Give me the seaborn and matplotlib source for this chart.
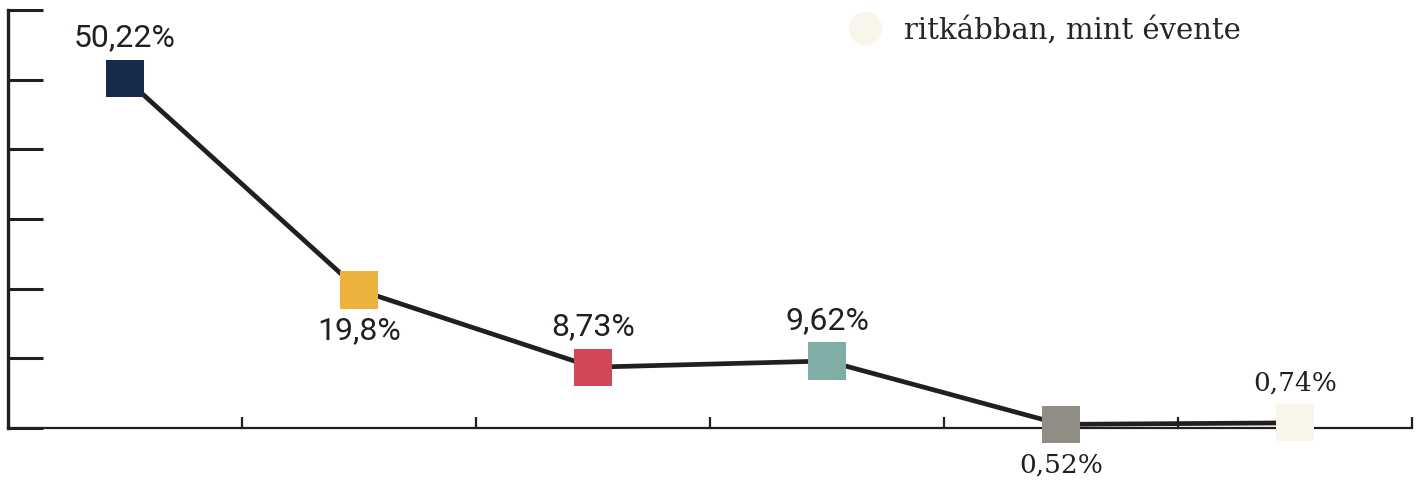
import matplotlib
matplotlib.use("Agg")
import matplotlib.pyplot as plt
import seaborn as sns
import pandas as pd
from matplotlib.lines import Line2D

categories = ["naponta", "hetente", "havonta", "negyedévente", "évente", "ritkábban, mint évente"]
values = [50.22, 19.8, 8.73, 9.62, 0.52, 0.74]
labels = ["50,22%", "19,8%", "8,73%", "9,62%", "0,52%", "0,74%"]
colors = ["#172b4d", "#ecb23b", "#d4475b", "#7eaea6", "#8f8d84", "#f8f6eb"]

df = pd.DataFrame({"cat": categories, "pos": range(len(categories)), "value": values})

sns.set_style("white")
fig = plt.figure(figsize=(14.21, 4.83), dpi=100)
ax = fig.add_axes([8 / 1421, 55 / 483, 1404 / 1421, 418 / 483])

sns.lineplot(data=df, x="pos", y="value", color="#231f20", linewidth=3.4, ax=ax, zorder=2)
sns.scatterplot(data=df, x="pos", y="value", hue="cat", palette=colors, marker="s",
                s=720, edgecolor="none", linewidth=0, ax=ax, zorder=3, legend=False,
                clip_on=False)

# label placement: above or below the marker
above = [True, False, True, True, False, True]
serif = [False, False, False, False, True, True]
for i, (v, lab) in enumerate(zip(values, labels)):
    off = 29 if above[i] else -29
    fam = "DejaVu Serif" if serif[i] else "Roboto"
    ax.annotate(lab, (i, v), xytext=(0, off), textcoords="offset points",
                ha="center", va="center", fontsize=19 if serif[i] else 23,
                family=fam, color="#231f20", annotation_clip=False)

ax.set_xlim(-0.5, 5.5)
ax.set_ylim(0, 60)
ax.set_xticks([0.5, 1.5, 2.5, 3.5, 4.5, 5.5])
ax.set_yticks(range(0, 61, 10))
ax.set_xticklabels([])
ax.set_yticklabels([])
ax.set_xlabel("")
ax.set_ylabel("")
ax.tick_params(axis="y", left=True, direction="in", length=25, width=2.2, color="#231f20")
ax.tick_params(axis="x", bottom=True, direction="in", length=8, width=1.6, color="#231f20")
for side in ["top", "right"]:
    ax.spines[side].set_visible(False)
ax.spines["left"].set_linewidth(2.4)
ax.spines["left"].set_color("#231f20")
ax.spines["bottom"].set_linewidth(1.6)
ax.spines["bottom"].set_color("#231f20")

handle = Line2D([], [], marker="o", linestyle="none", markersize=24,
                markerfacecolor=colors[-1], markeredgecolor="none")
ax.legend([handle], [categories[-1]], loc="upper left", bbox_to_anchor=(813 / 1404, 1.05),
          frameon=False, handletextpad=0.75, handlelength=1.2,
          prop={"family": "DejaVu Serif", "size": 21})

fig.savefig("out.png", dpi=100)
